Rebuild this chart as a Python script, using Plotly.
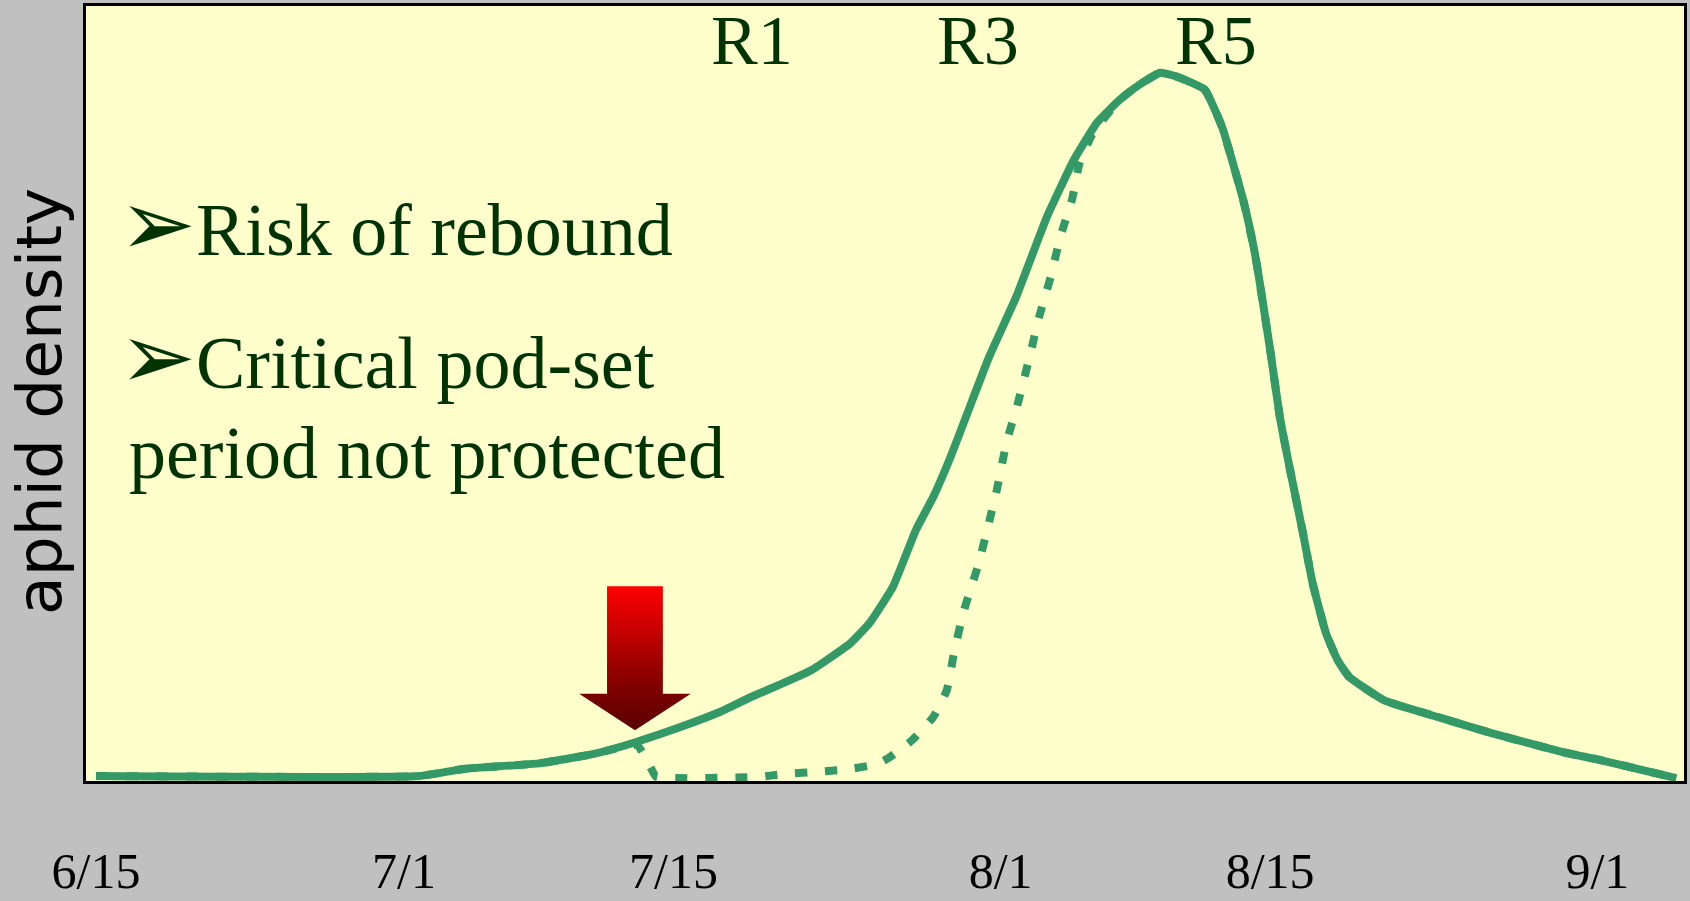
"""
Aphid density curve, treated vs untreated (rebound after early spray)
"""
import plotly.graph_objects as go

# days after 6/15
solid_days = [0, 16.8, 19.1, 23.0, 25.8, 27.9, 30.5, 32.4, 34.0, 35.7, 37.2, 39.2, 40.2, 41.4,
              42.6, 43.5, 44.4, 45.2, 46.4, 47.8, 49.4, 50.8, 52.0, 53.2, 54.2, 55.3, 56.2, 57.6,
              58.5, 59.6, 60.2, 61.0, 61.5, 62.0, 62.7, 63.2, 63.9, 64.5, 65.1, 66.9, 69.7, 72.5,
              76.2, 78.1, 82.1]
solid_density = [0, 0, 1.0, 1.8, 3.1, 4.7, 7.1, 9.1, 11.2, 13.2, 15.1, 18.9, 21.8, 26.9,
                 35.0, 39.7, 45.4, 51.1, 59.6, 68.1, 79.5, 87.6, 92.9, 96.2, 98.3, 100, 99.4, 97.6,
                 92.3, 81.9, 74.4, 60.6, 51.1, 44.0, 34.6, 27.5, 20.3, 16.5, 14.1, 10.8, 8.4, 6.1,
                 3.4, 2.3, -0.3]

# sprayed field: knocked down around 7/13, then rebounds
dashed_days = [0, 16.8, 19.1, 23.0, 25.8, 28.1, 28.8, 29.1, 34.5, 35.8, 37.5, 38.9, 40.6, 41.2,
               42.4, 43.5, 44.2, 44.6, 45.1, 45.8, 46.3, 46.8, 47.3, 47.9, 48.5, 49.0, 49.6, 50.1,
               50.7, 51.1, 51.8, 53.2, 54.2, 55.3, 56.2, 57.6, 58.5, 59.6, 60.2, 61.0, 61.5, 62.0,
               62.7, 63.2, 63.9, 64.5, 65.1, 66.9, 69.7, 72.5, 76.2, 78.1, 82.1]
dashed_density = [0, 0, 1.0, 1.8, 3.1, 4.4, 1.3, -0.1, -0.1, 0.3, 0.6, 0.9, 1.7, 2.6,
                  5.1, 8.4, 12.2, 17.9, 23.6, 29.7, 35.0, 40.7, 47.4, 53.1, 59.6, 65.3, 71.0, 76.7,
                  81.9, 87.2, 91.5, 96.2, 98.3, 100, 99.4, 97.6, 92.3, 81.9, 74.4, 60.6, 51.1, 44.0,
                  34.6, 27.5, 20.3, 16.5, 14.1, 10.8, 8.4, 6.1, 3.4, 2.3, -0.3]

tick_days = [0, 16, 30, 47, 61, 78]
tick_labels = ["6/15", "7/1", "7/15", "8/1", "8/15", "9/1"]

stage_labels = ["R1", "R3", "R5"]
stage_days = [34.1, 45.8, 58.2]

# spray arrow (block arrow pointing down)
spray_day = 28.0
arrow_top, arrow_neck, arrow_tip = 27.0, 11.7, 6.5
shaft_half, head_half = 1.45, 2.9

GREEN = "#339966"
TEXT_GREEN = "#003300"

fig = go.Figure()

fig.add_trace(go.Scatter(
    x=dashed_days, y=dashed_density, mode="lines",
    line=dict(color=GREEN, width=8, dash="12px,18px", shape="spline", smoothing=0.4),
    hoverinfo="skip"))
fig.add_trace(go.Scatter(
    x=solid_days, y=solid_density, mode="lines",
    line=dict(color=GREEN, width=8, shape="spline", smoothing=0.4),
    hoverinfo="skip"))

ax = [spray_day - shaft_half, spray_day + shaft_half, spray_day + shaft_half, spray_day + head_half,
      spray_day, spray_day - head_half, spray_day - shaft_half, spray_day - shaft_half]
ay = [arrow_top, arrow_top, arrow_neck, arrow_neck, arrow_tip, arrow_neck, arrow_neck, arrow_top]
fig.add_trace(go.Scatter(
    x=ax, y=ay, mode="lines", fill="toself", line=dict(width=0),
    fillgradient=dict(type="vertical", colorscale=[[0, "#5a0000"], [0.3, "#800000"], [1, "#ff0000"]]),
    hoverinfo="skip"))

serif = "Liberation Serif, Times New Roman, serif"

for lab, d in zip(stage_labels, stage_days):
    fig.add_annotation(x=d, y=104.6, text=lab, showarrow=False, xanchor="center", yanchor="middle",
                       font=dict(family=serif, size=70, color=TEXT_GREEN))

bullet = '<span style="font-size:92px">\u27a2</span>'
bullet_lines = [
    (1.1, 78.5, bullet + "Risk of rebound"),
    (1.1, 59.6, bullet + "Critical pod-set"),
    (1.6, 45.9, "period not protected"),
]
for bx, by, txt in bullet_lines:
    fig.add_annotation(x=bx, y=by, text=txt, showarrow=False, xanchor="left", yanchor="middle",
                       font=dict(family=serif, size=74, color=TEXT_GREEN))

fig.add_annotation(xref="paper", yref="paper", x=-0.029, y=0.49, text="aphid density",
                   textangle=-90, showarrow=False, xanchor="center", yanchor="middle",
                   font=dict(family="DejaVu Sans, Arial, sans-serif", size=63, color="black"))

fig.update_xaxes(range=[-0.52, 82.5], tickvals=tick_days, ticktext=tick_labels, showgrid=False,
                 zeroline=False, ticks="", ticklabelstandoff=44, automargin=False,
                 tickfont=dict(family=serif, size=50, color="black"),
                 showline=True, linecolor="black", linewidth=3, mirror=True)
fig.update_yaxes(range=[-0.71, 109.5], showticklabels=False, showgrid=False, zeroline=False,
                 ticks="", automargin=False,
                 showline=True, linecolor="black", linewidth=3, mirror=True)

fig.update_layout(width=1690, height=901, margin=dict(l=86, r=6, t=6, b=120, autoexpand=False),
                  paper_bgcolor="#c0c0c0", plot_bgcolor="#ffffcc", showlegend=False)

# page body has a default 8px margin, drop it so the figure fills the window
fig.write_html("out.html", config={"displayModeBar": False},
               post_script="document.body.style.margin='0';")
